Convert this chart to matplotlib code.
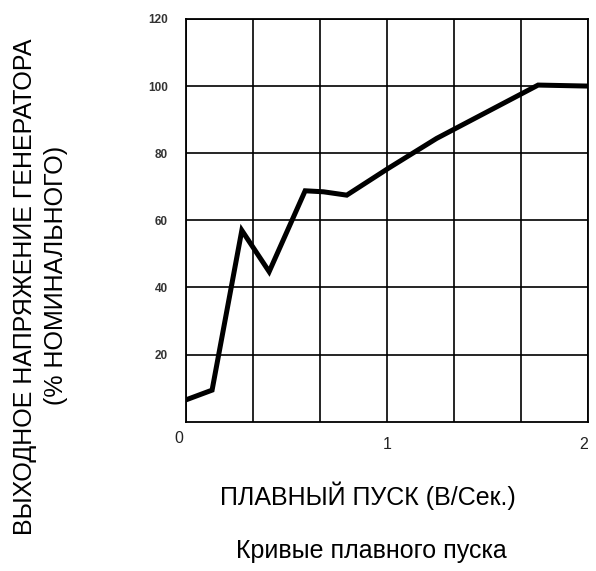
import matplotlib
matplotlib.use('Agg')
import matplotlib.pyplot as plt
from matplotlib.transforms import ScaledTranslation

# soft start curve
speed = [0.0, 0.13, 0.278, 0.414, 0.593, 0.684, 0.80, 1.007, 1.247, 1.752, 2.0]
voltage = [6.5, 9.4, 57.0, 44.7, 68.8, 68.5, 67.5, 75.5, 84.4, 100.3, 100.0]

y_ticks = [20, 40, 60, 80, 100, 120]
x_ticks = [0, 1, 2]
x_grid = [1/3, 2/3, 4/3, 5/3]

plt.rcParams['font.family'] = ['Liberation Sans', 'DejaVu Sans']

fig = plt.figure(figsize=(5.96, 5.71), dpi=100, facecolor='w')
ax = fig.add_axes([0.312, 0.2615, 0.6745, 0.7053])

ax.plot(speed, voltage, color='black', lw=3.6, solid_joinstyle='miter')

ax.set_xlim(0, 2)
ax.set_ylim(0, 120)
ax.set_xticks(x_ticks)
ax.set_xticks(x_grid, minor=True)
ax.set_yticks(y_ticks)
ax.grid(True, which='both', color='black', lw=1.2)
for s in ax.spines.values():
    s.set_linewidth(1.3)

ax.tick_params(which='both', length=0)
ax.tick_params(axis='y', labelsize=8.5, labelcolor='#333333', pad=13)
ax.tick_params(axis='x', labelsize=11.5, labelcolor='#222222', pad=11)
for lab in ax.get_yticklabels():
    lab.set_fontweight('bold')
xl = ax.get_xticklabels()
xl[0].set_ha('right')
xl[0].set_transform(xl[0].get_transform() + ScaledTranslation(-3/100, 6/100, fig.dpi_scale_trans))
xl[2].set_ha('right')

fig.text(25/596, 1 - 287/571, 'ВЫХОДНОЕ НАПРЯЖЕНИЕ ГЕНЕРАТОРА', rotation=90,
         ha='center', va='center', fontsize=18)
fig.text(56/596, 1 - 275/571, '(% НОМИНАЛЬНОГО)', rotation=90,
         ha='center', va='center', fontsize=18)
fig.text(368/596, 1 - 496/571, 'ПЛАВНЫЙ ПУСК (В/Сек.)',
         ha='center', va='center', fontsize=18)
fig.text(371/596, 1 - 551/571, 'Кривые плавного пуска',
         ha='center', va='center', fontsize=18)

fig.savefig('out.png', dpi=100)
